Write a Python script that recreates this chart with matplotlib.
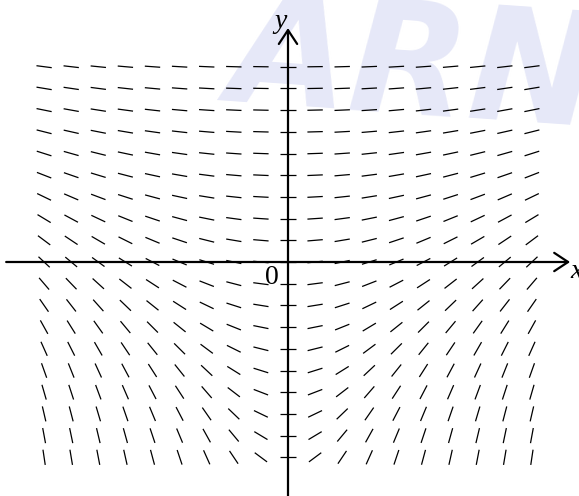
import numpy as np
import matplotlib.pyplot as plt
from matplotlib.collections import LineCollection

# slope field grid (one unit = one grid step)
x_vals = list(range(-9, 10))
y_vals = list(range(9, -10, -1))  # top row first
# slope dy/dx per unit of x, read row by row from top to bottom
row_slope = [0.018, 0.023, 0.028, 0.035, 0.044, 0.054, 0.067, 0.084, 0.104,
             0.130, 0.162, 0.20, 0.25, 0.31, 0.39, 0.48, 0.60, 0.75, 0.93]

fig = plt.figure(figsize=(5.79, 4.96), dpi=100)
ax = fig.add_axes([0, 0, 1, 1])
ax.set_xlim(-288 / 27.1, (579 - 288) / 27.1)
ax.set_ylim(-(496 - 262) / 21.7, 262 / 21.7)
ax.axis("off")

# watermark, kept behind everything else
ax.text(0.39, 0.80, "ARN", transform=fig.transFigure, fontsize=112,
        fontweight="bold", style="oblique", color="#e6e8f8", rotation=-4,
        rotation_mode="anchor", ha="left", va="baseline", zorder=0)

# pixel size of one data unit
p0 = ax.transData.transform((0, 0))
sx = ax.transData.transform((1, 0))[0] - p0[0]
sy = ax.transData.transform((0, 1))[1] - p0[1]
half = 7.7  # half segment length in pixels

segs = []
for y, k in zip(y_vals, row_slope):
    for x in x_vals:
        m = x * k
        vx, vy = sx, m * sy
        n = np.hypot(vx, vy)
        hx = half * vx / n / sx
        hy = half * vy / n / sy
        segs.append([(x - hx, y - hy), (x + hx, y + hy)])
ax.add_collection(LineCollection(segs, colors="black", linewidths=0.9, zorder=2))

# axes with open arrow heads
arrow = dict(arrowstyle="->,head_length=0.5,head_width=0.33", lw=1.6,
             color="black", mutation_scale=20, shrinkA=0, shrinkB=0)
ax.annotate("", xy=(10.41, 0), xytext=(-10.4, 0), arrowprops=arrow, zorder=3)
ax.annotate("", xy=(0, 10.78), xytext=(0, -11.0), arrowprops=arrow, zorder=3)

ax.text(-0.26, 11.06, "y", fontsize=20, style="italic", family="Liberation Serif",
        ha="center", va="center", zorder=4)
ax.text(10.63, -0.46, "x", fontsize=20, style="italic", family="Liberation Serif",
        ha="center", va="center", zorder=4)
ax.text(-0.59, -0.72, "0", fontsize=20, family="Liberation Serif",
        ha="center", va="center", zorder=4)

fig.savefig("out.png", dpi=100)
